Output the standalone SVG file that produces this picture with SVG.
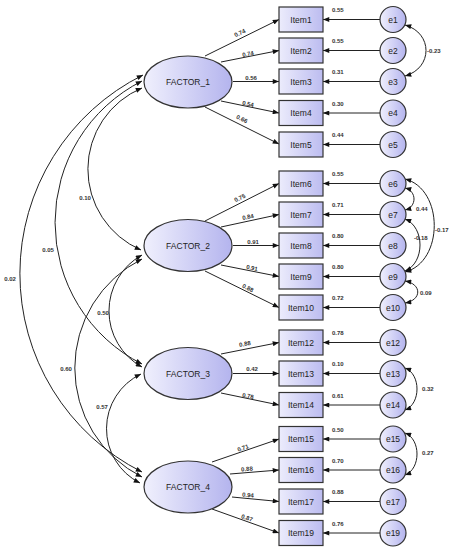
<svg xmlns="http://www.w3.org/2000/svg" width="453" height="550" viewBox="0 0 453 550">
<defs>
<linearGradient id="g" x1="0" y1="0" x2="1" y2="0"><stop offset="0" stop-color="#f0f0fd"/><stop offset="1" stop-color="#b4b4ee"/></linearGradient>
<linearGradient id="gb" x1="0" y1="0" x2="1" y2="0"><stop offset="0" stop-color="#ececfc"/><stop offset="1" stop-color="#bcbcf0"/></linearGradient>
<marker id="a" viewBox="0 0 10 8" refX="10" refY="4" markerWidth="7" markerHeight="5" markerUnits="userSpaceOnUse" orient="auto-start-reverse"><path d="M0,0 L10,4 L0,8 z" fill="#111"/></marker>
<style>
.f ellipse{fill:url(#g);stroke:#333;stroke-width:1.2}
.i rect{fill:url(#gb);stroke:#333;stroke-width:1.2}
.e circle{fill:url(#g);stroke:#333;stroke-width:1.2}
text{font-family:"Liberation Sans",Arial,sans-serif;fill:#222}
.n{font-size:8.5px;text-anchor:middle}
.l{font-size:6px;font-weight:bold;fill:#333}
.c{text-anchor:middle}
#conn path,#conn line{fill:none;stroke:#222;stroke-width:1;marker-end:url(#a)}
#conn .cv{marker-start:url(#a)}
</style>
</defs>
<g id="conn">
<!-- loadings -->
<line x1="205" y1="56" x2="279" y2="19.5"/>
<line x1="221" y1="62" x2="279" y2="50.5"/>
<line x1="233" y1="81.5" x2="279" y2="81.5"/>
<line x1="221" y1="101" x2="279" y2="113"/>
<line x1="205" y1="107" x2="279" y2="144"/>
<line x1="205" y1="221" x2="279" y2="183.5"/>
<line x1="221" y1="227" x2="279" y2="214.5"/>
<line x1="233" y1="245.5" x2="279" y2="245.5"/>
<line x1="221" y1="265" x2="279" y2="276.5"/>
<line x1="205" y1="271" x2="279" y2="307.5"/>
<line x1="221" y1="354" x2="279" y2="342.5"/>
<line x1="233" y1="373.5" x2="279" y2="373.5"/>
<line x1="221" y1="393" x2="279" y2="405"/>
<line x1="212" y1="462" x2="279" y2="439"/>
<line x1="230" y1="474" x2="279" y2="470"/>
<line x1="232" y1="497" x2="279" y2="501.5"/>
<line x1="212" y1="509" x2="279" y2="533"/>
<!-- errors -->
<line x1="380" y1="19.5" x2="323" y2="19.5"/>
<line x1="380" y1="50.5" x2="323" y2="50.5"/>
<line x1="380" y1="81.5" x2="323" y2="81.5"/>
<line x1="380" y1="113" x2="323" y2="113"/>
<line x1="380" y1="144.5" x2="323" y2="144.5"/>
<line x1="380" y1="183.5" x2="323" y2="183.5"/>
<line x1="380" y1="214.5" x2="323" y2="214.5"/>
<line x1="380" y1="245.5" x2="323" y2="245.5"/>
<line x1="380" y1="276.5" x2="323" y2="276.5"/>
<line x1="380" y1="307.5" x2="323" y2="307.5"/>
<line x1="380" y1="342.5" x2="323" y2="342.5"/>
<line x1="380" y1="373.5" x2="323" y2="373.5"/>
<line x1="380" y1="405" x2="323" y2="405"/>
<line x1="380" y1="439" x2="323" y2="439"/>
<line x1="380" y1="470" x2="323" y2="470"/>
<line x1="380" y1="501.5" x2="323" y2="501.5"/>
<line x1="380" y1="533" x2="323" y2="533"/>
<!-- factor covariances -->
<path class="cv" d="M142,88 A88,88 0 0 0 141,250"/>
<path class="cv" d="M142,81 A158.6,158.6 0 0 0 142,364"/>
<path class="cv" d="M143,75 A222,222 0 0 0 142,472"/>
<path class="cv" d="M142,255 A64,64 0 0 0 142,367"/>
<path class="cv" d="M142,259 A122,122 0 0 0 142,477"/>
<path class="cv" d="M141,374 A60.7,60.7 0 0 0 140,483"/>
<!-- error covariances -->
<path class="cv" d="M405,25 C433,33 433,68 405,76"/>
<path class="cv" d="M405,179 C444,189 444,262 405,272"/>
<path class="cv" d="M405,188 C417,191 417,207 405,210"/>
<path class="cv" d="M405,219 C425,227 425,263 405,271"/>
<path class="cv" d="M405,281 C422,284 422,300 405,303"/>
<path class="cv" d="M405,368 C421,374 421,404 405,410"/>
<path class="cv" d="M405,433 C421,439 421,469 405,475"/>
</g>
<g id="labels">
<text class="l c" transform="translate(240,33) rotate(-26)" y="2">0.74</text>
<text class="l c" transform="translate(248,54) rotate(-11)" y="2">0.74</text>
<text class="l c" transform="translate(251,78)" y="2">0.56</text>
<text class="l c" transform="translate(248,104) rotate(11)" y="2">0.54</text>
<text class="l c" transform="translate(242,119) rotate(26)" y="2">0.66</text>
<text class="l c" transform="translate(240,198) rotate(-26)" y="2">0.75</text>
<text class="l c" transform="translate(248,217) rotate(-11)" y="2">0.84</text>
<text class="l c" transform="translate(253,242)" y="2">0.91</text>
<text class="l c" transform="translate(252,268) rotate(11)" y="2">0.91</text>
<text class="l c" transform="translate(248,288) rotate(26)" y="2">0.88</text>
<text class="l c" transform="translate(245,344) rotate(-10)" y="2">0.88</text>
<text class="l c" transform="translate(252,369)" y="2">0.42</text>
<text class="l c" transform="translate(248,396) rotate(10)" y="2">0.78</text>
<text class="l c" transform="translate(243,448) rotate(-19)" y="2">0.71</text>
<text class="l c" transform="translate(247,469) rotate(-5)" y="2">0.88</text>
<text class="l c" transform="translate(248,495) rotate(5)" y="2">0.94</text>
<text class="l c" transform="translate(247,518) rotate(19)" y="2">0.87</text>
<text class="l" x="332" y="12">0.55</text>
<text class="l" x="332" y="43">0.55</text>
<text class="l" x="332" y="74">0.31</text>
<text class="l" x="332" y="105.5">0.30</text>
<text class="l" x="332" y="137">0.44</text>
<text class="l" x="332" y="176">0.55</text>
<text class="l" x="332" y="207">0.71</text>
<text class="l" x="332" y="238">0.80</text>
<text class="l" x="332" y="269">0.80</text>
<text class="l" x="332" y="300">0.72</text>
<text class="l" x="332" y="335">0.78</text>
<text class="l" x="332" y="366">0.10</text>
<text class="l" x="332" y="397.5">0.61</text>
<text class="l" x="332" y="431.5">0.50</text>
<text class="l" x="332" y="462.5">0.70</text>
<text class="l" x="332" y="494">0.88</text>
<text class="l" x="332" y="525.5">0.76</text>
<text class="l" x="427" y="53">-0.23</text>
<text class="l" x="416" y="211">0.44</text>
<text class="l" x="435" y="232">-0.17</text>
<text class="l" x="414" y="240">-0.18</text>
<text class="l" x="420" y="295">0.09</text>
<text class="l" x="422" y="391">0.32</text>
<text class="l" x="422" y="455">0.27</text>
<text class="l c" x="85" y="200">0.10</text>
<text class="l c" x="48" y="252">0.05</text>
<text class="l c" x="10" y="281">0.02</text>
<text class="l c" x="103" y="315">0.50</text>
<text class="l c" x="66" y="371">0.60</text>
<text class="l c" x="102" y="409">0.57</text>
</g>
<g id="FACTOR_1" class="f"><ellipse cx="188" cy="82" rx="44" ry="26"/><text class="n" x="188" y="85">FACTOR_1</text></g>
<g id="FACTOR_2" class="f"><ellipse cx="188" cy="245.5" rx="44" ry="26"/><text class="n" x="188" y="248.5">FACTOR_2</text></g>
<g id="FACTOR_3" class="f"><ellipse cx="188" cy="373.5" rx="44" ry="26"/><text class="n" x="188" y="376.5">FACTOR_3</text></g>
<g id="FACTOR_4" class="f"><ellipse cx="188" cy="487" rx="44" ry="26"/><text class="n" x="188" y="490">FACTOR_4</text></g>
<g id="Item1" class="i"><rect x="279" y="7" width="44" height="25"/><text class="n" x="301" y="22.5">Item1</text></g>
<g id="Item2" class="i"><rect x="279" y="38" width="44" height="25"/><text class="n" x="301" y="53.5">Item2</text></g>
<g id="Item3" class="i"><rect x="279" y="69" width="44" height="25"/><text class="n" x="301" y="84.5">Item3</text></g>
<g id="Item4" class="i"><rect x="279" y="100.5" width="44" height="25"/><text class="n" x="301" y="116">Item4</text></g>
<g id="Item5" class="i"><rect x="279" y="132" width="44" height="25"/><text class="n" x="301" y="147.5">Item5</text></g>
<g id="Item6" class="i"><rect x="279" y="171" width="44" height="25"/><text class="n" x="301" y="186.5">Item6</text></g>
<g id="Item7" class="i"><rect x="279" y="202" width="44" height="25"/><text class="n" x="301" y="217.5">Item7</text></g>
<g id="Item8" class="i"><rect x="279" y="233" width="44" height="25"/><text class="n" x="301" y="248.5">Item8</text></g>
<g id="Item9" class="i"><rect x="279" y="264" width="44" height="25"/><text class="n" x="301" y="279.5">Item9</text></g>
<g id="Item10" class="i"><rect x="279" y="295" width="44" height="25"/><text class="n" x="301" y="310.5">Item10</text></g>
<g id="Item12" class="i"><rect x="279" y="330" width="44" height="25"/><text class="n" x="301" y="345.5">Item12</text></g>
<g id="Item13" class="i"><rect x="279" y="361" width="44" height="25"/><text class="n" x="301" y="376.5">Item13</text></g>
<g id="Item14" class="i"><rect x="279" y="392.5" width="44" height="25"/><text class="n" x="301" y="408">Item14</text></g>
<g id="Item15" class="i"><rect x="279" y="426.5" width="44" height="25"/><text class="n" x="301" y="442">Item15</text></g>
<g id="Item16" class="i"><rect x="279" y="457.5" width="44" height="25"/><text class="n" x="301" y="473">Item16</text></g>
<g id="Item17" class="i"><rect x="279" y="489" width="44" height="25"/><text class="n" x="301" y="504.5">Item17</text></g>
<g id="Item19" class="i"><rect x="279" y="520.5" width="44" height="25"/><text class="n" x="301" y="536">Item19</text></g>
<g id="e1" class="e"><circle cx="393" cy="19.5" r="13"/><text class="n" x="393" y="22.5">e1</text></g>
<g id="e2" class="e"><circle cx="393" cy="50.5" r="13"/><text class="n" x="393" y="53.5">e2</text></g>
<g id="e3" class="e"><circle cx="393" cy="81.5" r="13"/><text class="n" x="393" y="84.5">e3</text></g>
<g id="e4" class="e"><circle cx="393" cy="113" r="13"/><text class="n" x="393" y="116">e4</text></g>
<g id="e5" class="e"><circle cx="393" cy="144.5" r="13"/><text class="n" x="393" y="147.5">e5</text></g>
<g id="e6" class="e"><circle cx="393" cy="183.5" r="13"/><text class="n" x="393" y="186.5">e6</text></g>
<g id="e7" class="e"><circle cx="393" cy="214.5" r="13"/><text class="n" x="393" y="217.5">e7</text></g>
<g id="e8" class="e"><circle cx="393" cy="245.5" r="13"/><text class="n" x="393" y="248.5">e8</text></g>
<g id="e9" class="e"><circle cx="393" cy="276.5" r="13"/><text class="n" x="393" y="279.5">e9</text></g>
<g id="e10" class="e"><circle cx="393" cy="307.5" r="13"/><text class="n" x="393" y="310.5">e10</text></g>
<g id="e12" class="e"><circle cx="393" cy="342.5" r="13"/><text class="n" x="393" y="345.5">e12</text></g>
<g id="e13" class="e"><circle cx="393" cy="373.5" r="13"/><text class="n" x="393" y="376.5">e13</text></g>
<g id="e14" class="e"><circle cx="393" cy="405" r="13"/><text class="n" x="393" y="408">e14</text></g>
<g id="e15" class="e"><circle cx="393" cy="439" r="13"/><text class="n" x="393" y="442">e15</text></g>
<g id="e16" class="e"><circle cx="393" cy="470" r="13"/><text class="n" x="393" y="473">e16</text></g>
<g id="e17" class="e"><circle cx="393" cy="501.5" r="13"/><text class="n" x="393" y="504.5">e17</text></g>
<g id="e19" class="e"><circle cx="393" cy="533" r="13"/><text class="n" x="393" y="536">e19</text></g>
</svg>
